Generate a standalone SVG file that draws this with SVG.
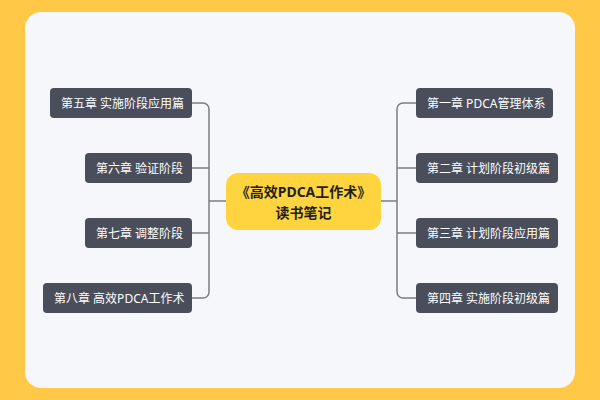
<svg xmlns="http://www.w3.org/2000/svg" width="600" height="400" viewBox="0 0 600 400">
<style>
.n{fill:#4A4D5A}
.t{fill:#fff;font-family:"Noto Sans","Noto Sans CJK SC",sans-serif;font-size:12px;dominant-baseline:central}
.c{fill:none;stroke:#7B7D85;stroke-width:1.5}
.m{fill:#1F1F1F;font-family:"Noto Sans","Noto Sans CJK SC",sans-serif;font-size:14px;font-weight:bold;text-anchor:middle;dominant-baseline:central}
</style>
<rect width="600" height="400" fill="#FFC846"/>
<rect x="25" y="12" width="550" height="376" rx="16" fill="#F6F7FB"/>
<g id="connectors">
<path class="c" d="M226 201H209M192 103H203a6 6 0 0 1 6 6V292a6 6 0 0 1-6 6H192M192 168H209M192 233H209"/>
<path class="c" d="M380 201H397M416 103H403a6 6 0 0 0-6 6V292a6 6 0 0 0 6 6H416M416 168H397M416 233H397"/>
</g>
<g id="center"><rect x="226" y="173" width="155" height="57" rx="12" fill="#FFD43F"/>
<text class="m" x="303.5" y="191">《高效PDCA工作术》</text><text class="m" x="303.5" y="212">读书笔记</text></g>
<g id="n5"><rect class="n" x="50" y="88" width="142" height="30" rx="4"/><text class="t" x="61" y="103">第五章 实施阶段应用篇</text></g>
<g id="n6"><rect class="n" x="85" y="153" width="107" height="30" rx="4"/><text class="t" x="96" y="168">第六章 验证阶段</text></g>
<g id="n7"><rect class="n" x="85" y="218" width="107" height="30" rx="4"/><text class="t" x="96" y="233">第七章 调整阶段</text></g>
<g id="n8"><rect class="n" x="43" y="283" width="149" height="30" rx="4"/><text class="t" x="54" y="298">第八章 高效PDCA工作术</text></g>
<g id="n1"><rect class="n" x="416" y="88" width="137" height="30" rx="4"/><text class="t" x="427" y="103">第一章 PDCA管理体系</text></g>
<g id="n2"><rect class="n" x="416" y="153" width="142" height="30" rx="4"/><text class="t" x="427" y="168">第二章 计划阶段初级篇</text></g>
<g id="n3"><rect class="n" x="416" y="218" width="142" height="30" rx="4"/><text class="t" x="427" y="233">第三章 计划阶段应用篇</text></g>
<g id="n4"><rect class="n" x="416" y="283" width="142" height="30" rx="4"/><text class="t" x="427" y="298">第四章 实施阶段初级篇</text></g>
</svg>
